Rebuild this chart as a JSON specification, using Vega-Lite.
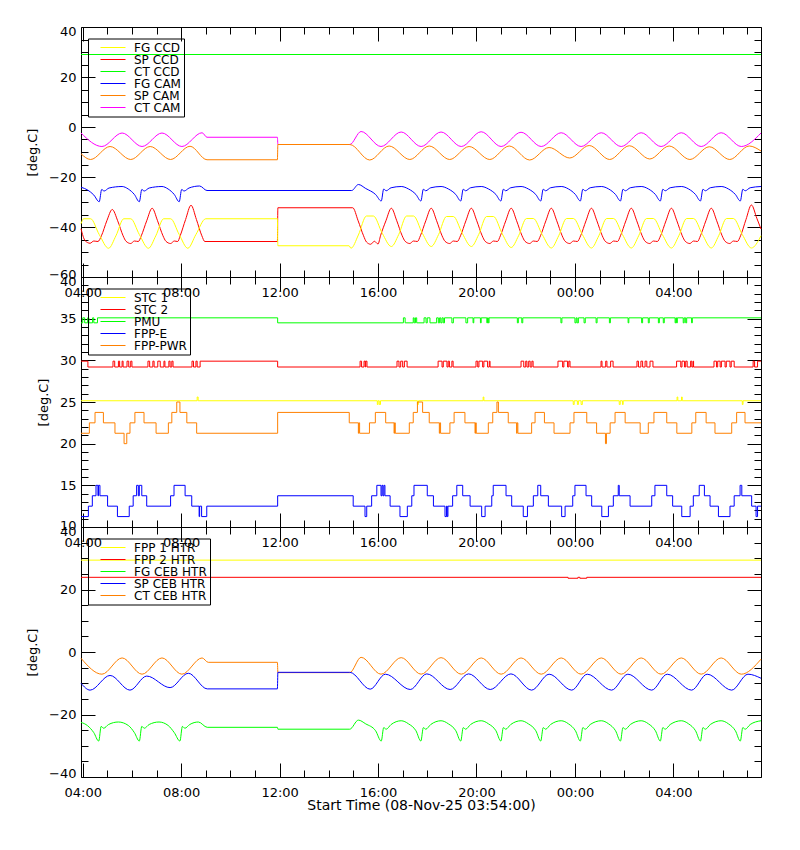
{
  "$schema": "https://vega.github.io/schema/vega-lite/v6.json",
  "padding": {"left": 26, "top": 24, "right": 5, "bottom": 5},
  "background": "white",
  "spacing": 0,
  "bounds": "flush",
  "config": {
    "view": {"stroke": "black", "strokeWidth": 1},
    "axis": {
      "labelFont": "DejaVu Sans", "labelFontSize": 13, "labelColor": "black",
      "titleFont": "DejaVu Sans", "titleFontSize": 13, "titleFontWeight": "normal", "titleColor": "black",
      "tickColor": "black", "tickWidth": 1, "domain": false, "grid": false,
      "labelFlush": false, "labelOverlap": false, "labelBound": false
    },
    "legend": {
      "orient": "none", "legendX": 7, "legendY": 11.5, "title": null,
      "symbolType": "stroke", "symbolSize": 625, "symbolStrokeWidth": 1, "clipHeight": 12,
      "strokeColor": "black", "padding": 3, "symbolOffset": 9, "labelOffset": 8, "rowPadding": 0,
      "labelFont": "DejaVu Sans", "labelFontSize": 12, "labelColor": "black"
    }
  },
  "datasets": {
    "p1": [
      {"t":3.93,"s":"CT CCD","v":29},{"t":31.56,"s":"CT CCD","v":29},

      {"t":3.93,"s":"CT CAM","v":-2.4},{"t":4.78,"s":"CT CAM","v":-7.8},{"t":5.6,"s":"CT CAM","v":-2.4},{"t":6.41,"s":"CT CAM","v":-7.8},{"t":7.22,"s":"CT CAM","v":-2.4},{"t":8.03,"s":"CT CAM","v":-7.8},{"t":8.85,"s":"CT CAM","v":-2.3},{"t":9.05,"s":"CT CAM","v":-4.1},{"t":11.91,"s":"CT CAM","v":-4.1},{"t":11.93,"s":"CT CAM","v":-7},{"t":14.85,"s":"CT CAM","v":-7},{"t":15.31,"s":"CT CAM","v":-1.8},{"t":16.12,"s":"CT CAM","v":-7.8},{"t":16.94,"s":"CT CAM","v":-2},{"t":17.75,"s":"CT CAM","v":-7.8},{"t":18.56,"s":"CT CAM","v":-2},{"t":19.38,"s":"CT CAM","v":-7.8},{"t":20.19,"s":"CT CAM","v":-1.9},{"t":21,"s":"CT CAM","v":-7.8},{"t":21.81,"s":"CT CAM","v":-2.1},{"t":22.63,"s":"CT CAM","v":-7.8},{"t":23.44,"s":"CT CAM","v":-2.3},{"t":24.25,"s":"CT CAM","v":-7.8},{"t":25.07,"s":"CT CAM","v":-2.3},{"t":25.88,"s":"CT CAM","v":-7.8},{"t":26.69,"s":"CT CAM","v":-2.3},{"t":27.5,"s":"CT CAM","v":-7.8},{"t":28.32,"s":"CT CAM","v":-2.3},{"t":29.13,"s":"CT CAM","v":-7.8},{"t":29.94,"s":"CT CAM","v":-2.3},{"t":30.76,"s":"CT CAM","v":-7.8},{"t":31.56,"s":"CT CAM","v":-2.4},

      {"t":3.93,"s":"SP CAM","v":-10.7},{"t":4.32,"s":"SP CAM","v":-13},{"t":5.11,"s":"SP CAM","v":-7.8},{"t":5.95,"s":"SP CAM","v":-13},{"t":6.74,"s":"SP CAM","v":-7.8},{"t":7.57,"s":"SP CAM","v":-13},{"t":8.36,"s":"SP CAM","v":-7.7},{"t":9.05,"s":"SP CAM","v":-13.1},{"t":11.91,"s":"SP CAM","v":-13.1},{"t":11.93,"s":"SP CAM","v":-7},{"t":14.85,"s":"SP CAM","v":-7},{"t":15.66,"s":"SP CAM","v":-13.2},{"t":16.45,"s":"SP CAM","v":-7.6},{"t":17.29,"s":"SP CAM","v":-13},{"t":18.08,"s":"SP CAM","v":-7.6},{"t":18.91,"s":"SP CAM","v":-13},{"t":19.7,"s":"SP CAM","v":-7.8},{"t":20.54,"s":"SP CAM","v":-13},{"t":21.33,"s":"SP CAM","v":-7.6},{"t":22.16,"s":"SP CAM","v":-13.2},{"t":22.95,"s":"SP CAM","v":-8.2},{"t":23.79,"s":"SP CAM","v":-12.4},{"t":24.58,"s":"SP CAM","v":-7.4},{"t":25.41,"s":"SP CAM","v":-13},{"t":26.21,"s":"SP CAM","v":-7.5},{"t":27.04,"s":"SP CAM","v":-12.8},{"t":27.83,"s":"SP CAM","v":-7.6},{"t":28.67,"s":"SP CAM","v":-13},{"t":29.46,"s":"SP CAM","v":-7.9},{"t":30.29,"s":"SP CAM","v":-13},{"t":31.08,"s":"SP CAM","v":-7.6},{"t":31.56,"s":"SP CAM","v":-9.6},

      {"t":3.93,"s":"FG CAM","v":-24.1},{"t":4.2,"s":"FG CAM","v":-25.2},{"t":4.45,"s":"FG CAM","v":-27.2},{"t":4.67,"s":"FG CAM","v":-29.9},{"t":4.77,"s":"FG CAM","v":-25},{"t":4.87,"s":"FG CAM","v":-25.6},{"t":5.07,"s":"FG CAM","v":-24.4},{"t":5.6,"s":"FG CAM","v":-23.8},{"t":5.85,"s":"FG CAM","v":-24.8},{"t":6.1,"s":"FG CAM","v":-27},{"t":6.3,"s":"FG CAM","v":-29.9},{"t":6.4,"s":"FG CAM","v":-25},{"t":6.5,"s":"FG CAM","v":-25.6},{"t":6.7,"s":"FG CAM","v":-24.4},{"t":7.22,"s":"FG CAM","v":-23.8},{"t":7.47,"s":"FG CAM","v":-24.8},{"t":7.72,"s":"FG CAM","v":-27},{"t":7.92,"s":"FG CAM","v":-29.9},{"t":8.02,"s":"FG CAM","v":-25},{"t":8.12,"s":"FG CAM","v":-25.6},{"t":8.32,"s":"FG CAM","v":-24.4},{"t":8.75,"s":"FG CAM","v":-23.6},{"t":9.05,"s":"FG CAM","v":-25.4},{"t":14.93,"s":"FG CAM","v":-25.4},{"t":15.2,"s":"FG CAM","v":-23},{"t":15.5,"s":"FG CAM","v":-24.6},{"t":15.9,"s":"FG CAM","v":-27},{"t":16.13,"s":"FG CAM","v":-29.6},{"t":16.23,"s":"FG CAM","v":-24.8},{"t":16.33,"s":"FG CAM","v":-25.5},{"t":16.53,"s":"FG CAM","v":-24.3},
      {"t":16.94,"s":"FG CAM","v":-23.8},{"t":17.24,"s":"FG CAM","v":-24.8},{"t":17.54,"s":"FG CAM","v":-27},{"t":17.74,"s":"FG CAM","v":-29.6},{"t":17.84,"s":"FG CAM","v":-24.9},{"t":17.94,"s":"FG CAM","v":-25.5},{"t":18.14,"s":"FG CAM","v":-24.3},
      {"t":18.56,"s":"FG CAM","v":-23.8},{"t":18.86,"s":"FG CAM","v":-24.8},{"t":19.16,"s":"FG CAM","v":-27},{"t":19.36,"s":"FG CAM","v":-29.6},{"t":19.46,"s":"FG CAM","v":-24.9},{"t":19.56,"s":"FG CAM","v":-25.5},{"t":19.76,"s":"FG CAM","v":-24.3},
      {"t":20.19,"s":"FG CAM","v":-23.8},{"t":20.49,"s":"FG CAM","v":-24.8},{"t":20.79,"s":"FG CAM","v":-27},{"t":20.99,"s":"FG CAM","v":-29.6},{"t":21.09,"s":"FG CAM","v":-24.9},{"t":21.19,"s":"FG CAM","v":-25.5},{"t":21.39,"s":"FG CAM","v":-24.3},
      {"t":21.81,"s":"FG CAM","v":-23.8},{"t":22.11,"s":"FG CAM","v":-24.8},{"t":22.41,"s":"FG CAM","v":-27},{"t":22.61,"s":"FG CAM","v":-29.6},{"t":22.71,"s":"FG CAM","v":-24.9},{"t":22.81,"s":"FG CAM","v":-25.5},{"t":23.01,"s":"FG CAM","v":-24.3},
      {"t":23.44,"s":"FG CAM","v":-23.8},{"t":23.74,"s":"FG CAM","v":-24.8},{"t":24.02,"s":"FG CAM","v":-27},{"t":24.22,"s":"FG CAM","v":-29.6},{"t":24.32,"s":"FG CAM","v":-24.9},{"t":24.42,"s":"FG CAM","v":-25.5},{"t":24.62,"s":"FG CAM","v":-24.3},
      {"t":25.07,"s":"FG CAM","v":-23.8},{"t":25.37,"s":"FG CAM","v":-24.8},{"t":25.65,"s":"FG CAM","v":-27},{"t":25.85,"s":"FG CAM","v":-29.6},{"t":25.95,"s":"FG CAM","v":-24.9},{"t":26.05,"s":"FG CAM","v":-25.5},{"t":26.25,"s":"FG CAM","v":-24.3},
      {"t":26.69,"s":"FG CAM","v":-23.8},{"t":26.99,"s":"FG CAM","v":-24.8},{"t":27.27,"s":"FG CAM","v":-27},{"t":27.47,"s":"FG CAM","v":-29.6},{"t":27.57,"s":"FG CAM","v":-24.9},{"t":27.67,"s":"FG CAM","v":-25.5},{"t":27.87,"s":"FG CAM","v":-24.3},
      {"t":28.32,"s":"FG CAM","v":-23.8},{"t":28.62,"s":"FG CAM","v":-24.8},{"t":28.9,"s":"FG CAM","v":-27},{"t":29.1,"s":"FG CAM","v":-29.6},{"t":29.2,"s":"FG CAM","v":-24.9},{"t":29.3,"s":"FG CAM","v":-25.5},{"t":29.5,"s":"FG CAM","v":-24.3},
      {"t":29.94,"s":"FG CAM","v":-23.8},{"t":30.24,"s":"FG CAM","v":-24.8},{"t":30.52,"s":"FG CAM","v":-27},{"t":30.72,"s":"FG CAM","v":-29.6},{"t":30.82,"s":"FG CAM","v":-24.9},{"t":30.92,"s":"FG CAM","v":-25.5},{"t":31.12,"s":"FG CAM","v":-24.3},{"t":31.56,"s":"FG CAM","v":-23.8},

      {"t":3.93,"s":"SP CCD","v":-40.7},{"t":4.1,"s":"SP CCD","v":-45.5},{"t":4.3,"s":"SP CCD","v":-46.5},{"t":4.45,"s":"SP CCD","v":-45.6},{"t":4.62,"s":"SP CCD","v":-45.8},{"t":4.76,"s":"SP CCD","v":-43.5},{"t":4.98,"s":"SP CCD","v":-37.5},{"t":5.2,"s":"SP CCD","v":-33},{"t":5.42,"s":"SP CCD","v":-37.5},{"t":5.64,"s":"SP CCD","v":-43.5},{"t":5.76,"s":"SP CCD","v":-45.7},{"t":5.95,"s":"SP CCD","v":-46.6},{"t":6.1,"s":"SP CCD","v":-45.6},{"t":6.26,"s":"SP CCD","v":-45.8},{"t":6.38,"s":"SP CCD","v":-43.5},{"t":6.6,"s":"SP CCD","v":-37.5},{"t":6.82,"s":"SP CCD","v":-32.5},{"t":7.04,"s":"SP CCD","v":-37.5},{"t":7.26,"s":"SP CCD","v":-43.5},{"t":7.38,"s":"SP CCD","v":-45.7},{"t":7.57,"s":"SP CCD","v":-46.6},{"t":7.72,"s":"SP CCD","v":-45.6},{"t":7.86,"s":"SP CCD","v":-45.8},{"t":7.96,"s":"SP CCD","v":-43.5},{"t":8.18,"s":"SP CCD","v":-37},{"t":8.4,"s":"SP CCD","v":-31.3},{"t":8.62,"s":"SP CCD","v":-37},{"t":8.84,"s":"SP CCD","v":-43.5},{"t":8.96,"s":"SP CCD","v":-45.8},{"t":11.91,"s":"SP CCD","v":-45.8},{"t":11.93,"s":"SP CCD","v":-32.3},{"t":14.97,"s":"SP CCD","v":-32.3},{"t":15.19,"s":"SP CCD","v":-37.5},{"t":15.41,"s":"SP CCD","v":-43.5},{"t":15.53,"s":"SP CCD","v":-46},{"t":15.7,"s":"SP CCD","v":-46.9},{"t":15.85,"s":"SP CCD","v":-45.7},{"t":16,"s":"SP CCD","v":-46.8},{"t":16.1,"s":"SP CCD","v":-43.5},
      {"t":16.32,"s":"SP CCD","v":-37.5},{"t":16.54,"s":"SP CCD","v":-32.5},{"t":16.76,"s":"SP CCD","v":-37.5},{"t":16.98,"s":"SP CCD","v":-43.5},{"t":17.1,"s":"SP CCD","v":-45.7},{"t":17.29,"s":"SP CCD","v":-46.6},{"t":17.44,"s":"SP CCD","v":-45.6},{"t":17.6,"s":"SP CCD","v":-45.8},
      {"t":17.72,"s":"SP CCD","v":-43.5},{"t":17.94,"s":"SP CCD","v":-37.5},{"t":18.16,"s":"SP CCD","v":-32.5},{"t":18.38,"s":"SP CCD","v":-37.5},{"t":18.6,"s":"SP CCD","v":-43.5},{"t":18.72,"s":"SP CCD","v":-45.7},{"t":18.91,"s":"SP CCD","v":-46.6},{"t":19.06,"s":"SP CCD","v":-45.6},{"t":19.22,"s":"SP CCD","v":-45.8},
      {"t":19.35,"s":"SP CCD","v":-43.5},{"t":19.57,"s":"SP CCD","v":-37.5},{"t":19.79,"s":"SP CCD","v":-32.5},{"t":20.01,"s":"SP CCD","v":-37.5},{"t":20.23,"s":"SP CCD","v":-43.5},{"t":20.35,"s":"SP CCD","v":-45.7},{"t":20.54,"s":"SP CCD","v":-46.6},{"t":20.69,"s":"SP CCD","v":-45.6},{"t":20.85,"s":"SP CCD","v":-45.8},
      {"t":20.97,"s":"SP CCD","v":-43.5},{"t":21.19,"s":"SP CCD","v":-37.5},{"t":21.41,"s":"SP CCD","v":-32.5},{"t":21.63,"s":"SP CCD","v":-37.5},{"t":21.85,"s":"SP CCD","v":-43.5},{"t":21.97,"s":"SP CCD","v":-45.7},{"t":22.16,"s":"SP CCD","v":-46.6},{"t":22.31,"s":"SP CCD","v":-45.6},{"t":22.47,"s":"SP CCD","v":-45.8},
      {"t":22.6,"s":"SP CCD","v":-43.5},{"t":22.82,"s":"SP CCD","v":-37.5},{"t":23.04,"s":"SP CCD","v":-32.5},{"t":23.26,"s":"SP CCD","v":-37.5},{"t":23.48,"s":"SP CCD","v":-43.5},{"t":23.6,"s":"SP CCD","v":-45.7},{"t":23.79,"s":"SP CCD","v":-46.6},{"t":23.94,"s":"SP CCD","v":-45.6},{"t":24.1,"s":"SP CCD","v":-45.8},
      {"t":24.23,"s":"SP CCD","v":-43.5},{"t":24.45,"s":"SP CCD","v":-37.5},{"t":24.67,"s":"SP CCD","v":-32.5},{"t":24.89,"s":"SP CCD","v":-37.5},{"t":25.11,"s":"SP CCD","v":-43.5},{"t":25.23,"s":"SP CCD","v":-45.7},{"t":25.42,"s":"SP CCD","v":-46.6},{"t":25.57,"s":"SP CCD","v":-45.6},{"t":25.73,"s":"SP CCD","v":-45.8},
      {"t":25.85,"s":"SP CCD","v":-43.5},{"t":26.07,"s":"SP CCD","v":-37.5},{"t":26.29,"s":"SP CCD","v":-32.5},{"t":26.51,"s":"SP CCD","v":-37.5},{"t":26.73,"s":"SP CCD","v":-43.5},{"t":26.85,"s":"SP CCD","v":-45.7},{"t":27.04,"s":"SP CCD","v":-46.6},{"t":27.19,"s":"SP CCD","v":-45.6},{"t":27.35,"s":"SP CCD","v":-45.8},
      {"t":27.48,"s":"SP CCD","v":-43.5},{"t":27.7,"s":"SP CCD","v":-37.5},{"t":27.92,"s":"SP CCD","v":-32.5},{"t":28.14,"s":"SP CCD","v":-37.5},{"t":28.36,"s":"SP CCD","v":-43.5},{"t":28.48,"s":"SP CCD","v":-45.7},{"t":28.67,"s":"SP CCD","v":-46.6},{"t":28.82,"s":"SP CCD","v":-45.6},{"t":28.98,"s":"SP CCD","v":-45.8},
      {"t":29.1,"s":"SP CCD","v":-43.5},{"t":29.32,"s":"SP CCD","v":-37.5},{"t":29.54,"s":"SP CCD","v":-32.5},{"t":29.76,"s":"SP CCD","v":-37.5},{"t":29.98,"s":"SP CCD","v":-43.5},{"t":30.1,"s":"SP CCD","v":-45.7},{"t":30.29,"s":"SP CCD","v":-46.6},{"t":30.44,"s":"SP CCD","v":-45.6},{"t":30.6,"s":"SP CCD","v":-45.8},
      {"t":30.73,"s":"SP CCD","v":-43.5},{"t":30.95,"s":"SP CCD","v":-37},{"t":31.17,"s":"SP CCD","v":-31.2},{"t":31.39,"s":"SP CCD","v":-36.5},{"t":31.56,"s":"SP CCD","v":-40.8},

      {"t":3.93,"s":"FG CCD","v":-38.7},{"t":4.04,"s":"FG CCD","v":-36.7},{"t":4.32,"s":"FG CCD","v":-36.7},{"t":4.67,"s":"FG CCD","v":-43},{"t":5.05,"s":"FG CCD","v":-48.5},{"t":5.35,"s":"FG CCD","v":-43.5},{"t":5.67,"s":"FG CCD","v":-36.7},{"t":5.95,"s":"FG CCD","v":-36.7},{"t":6.3,"s":"FG CCD","v":-43},{"t":6.67,"s":"FG CCD","v":-48.5},{"t":6.97,"s":"FG CCD","v":-43.5},{"t":7.29,"s":"FG CCD","v":-36.7},{"t":7.57,"s":"FG CCD","v":-36.7},{"t":7.92,"s":"FG CCD","v":-43},{"t":8.27,"s":"FG CCD","v":-48.5},{"t":8.6,"s":"FG CCD","v":-43},{"t":9,"s":"FG CCD","v":-36.7},{"t":11.91,"s":"FG CCD","v":-36.7},{"t":11.93,"s":"FG CCD","v":-47.5},{"t":14.82,"s":"FG CCD","v":-47.5},{"t":14.9,"s":"FG CCD","v":-48.5},{"t":15.2,"s":"FG CCD","v":-43.2},{"t":15.53,"s":"FG CCD","v":-35.6},{"t":15.81,"s":"FG CCD","v":-35.6},{"t":16.17,"s":"FG CCD","v":-42.5},{"t":16.54,"s":"FG CCD","v":-47.8},{"t":16.84,"s":"FG CCD","v":-43},{"t":17.16,"s":"FG CCD","v":-35.6},{"t":17.44,"s":"FG CCD","v":-35.6},{"t":17.8,"s":"FG CCD","v":-42.5},{"t":18.16,"s":"FG CCD","v":-47.8},{"t":18.46,"s":"FG CCD","v":-43},{"t":18.78,"s":"FG CCD","v":-35.8},{"t":19.06,"s":"FG CCD","v":-35.8},{"t":19.42,"s":"FG CCD","v":-42.5},{"t":19.79,"s":"FG CCD","v":-47.8},{"t":20.09,"s":"FG CCD","v":-43},{"t":20.41,"s":"FG CCD","v":-35.8},{"t":20.69,"s":"FG CCD","v":-35.8},{"t":21.05,"s":"FG CCD","v":-42.8},{"t":21.41,"s":"FG CCD","v":-48.2},{"t":21.71,"s":"FG CCD","v":-43.5},{"t":22.03,"s":"FG CCD","v":-36.6},{"t":22.31,"s":"FG CCD","v":-36.6},{"t":22.67,"s":"FG CCD","v":-43},{"t":23.04,"s":"FG CCD","v":-48.4},{"t":23.34,"s":"FG CCD","v":-43.5},{"t":23.66,"s":"FG CCD","v":-36.6},{"t":23.94,"s":"FG CCD","v":-36.6},{"t":24.3,"s":"FG CCD","v":-43},{"t":24.67,"s":"FG CCD","v":-48.4},{"t":24.97,"s":"FG CCD","v":-43.5},{"t":25.29,"s":"FG CCD","v":-36.6},{"t":25.57,"s":"FG CCD","v":-36.6},{"t":25.93,"s":"FG CCD","v":-43},{"t":26.29,"s":"FG CCD","v":-48.4},{"t":26.59,"s":"FG CCD","v":-43.5},{"t":26.91,"s":"FG CCD","v":-36.6},{"t":27.19,"s":"FG CCD","v":-36.6},{"t":27.55,"s":"FG CCD","v":-43},{"t":27.92,"s":"FG CCD","v":-48.4},{"t":28.22,"s":"FG CCD","v":-43.5},{"t":28.54,"s":"FG CCD","v":-36.6},{"t":28.82,"s":"FG CCD","v":-36.6},{"t":29.18,"s":"FG CCD","v":-43},{"t":29.54,"s":"FG CCD","v":-48.4},{"t":29.84,"s":"FG CCD","v":-43.5},{"t":30.16,"s":"FG CCD","v":-36.6},{"t":30.44,"s":"FG CCD","v":-36.6},{"t":30.8,"s":"FG CCD","v":-43},{"t":31.17,"s":"FG CCD","v":-48.4},{"t":31.56,"s":"FG CCD","v":-43.5}
    ],
    "p2": [
      {"t":3.93,"s":"STC 1","v":25.15},{"t":8.65,"s":"STC 1","v":25.6},{"t":8.69,"s":"STC 1","v":25.15},{"t":15.97,"s":"STC 1","v":24.7},{"t":16,"s":"STC 1","v":25.15},{"t":16.05,"s":"STC 1","v":24.7},{"t":16.1,"s":"STC 1","v":25.15},{"t":17.6,"s":"STC 1","v":24.7},{"t":17.64,"s":"STC 1","v":25.15},{"t":20.27,"s":"STC 1","v":25.6},{"t":20.3,"s":"STC 1","v":25.15},{"t":23.93,"s":"STC 1","v":24.7},{"t":23.97,"s":"STC 1","v":25.15},{"t":24.1,"s":"STC 1","v":24.7},{"t":24.14,"s":"STC 1","v":25.15},{"t":24.25,"s":"STC 1","v":24.7},{"t":24.3,"s":"STC 1","v":25.15},{"t":25.8,"s":"STC 1","v":24.7},{"t":25.84,"s":"STC 1","v":25.15},{"t":25.93,"s":"STC 1","v":24.7},{"t":25.96,"s":"STC 1","v":25.15},{"t":28.15,"s":"STC 1","v":25.6},{"t":28.18,"s":"STC 1","v":25.15},{"t":28.33,"s":"STC 1","v":25.6},{"t":28.36,"s":"STC 1","v":25.15},{"t":30.8,"s":"STC 1","v":24.7},{"t":30.83,"s":"STC 1","v":25.15},{"t":31.56,"s":"STC 1","v":25.15},

      {"t":3.93,"s":"STC 2","v":29.9},{"t":4.21,"s":"STC 2","v":29.2},
      {"t":5.23,"s":"STC 2","v":29.9},{"t":5.3,"s":"STC 2","v":29.2},{"t":5.45,"s":"STC 2","v":29.9},{"t":5.5,"s":"STC 2","v":29.2},{"t":5.6,"s":"STC 2","v":29.9},{"t":5.64,"s":"STC 2","v":29.2},{"t":5.8,"s":"STC 2","v":29.9},{"t":5.87,"s":"STC 2","v":29.2},{"t":5.95,"s":"STC 2","v":29.9},{"t":6,"s":"STC 2","v":29.2},
      {"t":6.65,"s":"STC 2","v":29.9},{"t":6.72,"s":"STC 2","v":29.2},{"t":6.85,"s":"STC 2","v":29.9},{"t":6.9,"s":"STC 2","v":29.2},{"t":7.05,"s":"STC 2","v":29.9},{"t":7.15,"s":"STC 2","v":29.2},{"t":7.3,"s":"STC 2","v":29.9},{"t":7.34,"s":"STC 2","v":29.2},{"t":7.5,"s":"STC 2","v":29.9},{"t":7.55,"s":"STC 2","v":29.2},{"t":7.62,"s":"STC 2","v":29.9},{"t":7.67,"s":"STC 2","v":29.2},
      {"t":8.44,"s":"STC 2","v":29.9},{"t":8.5,"s":"STC 2","v":29.2},{"t":8.6,"s":"STC 2","v":29.9},{"t":8.65,"s":"STC 2","v":29.2},{"t":8.77,"s":"STC 2","v":29.9},{"t":11.92,"s":"STC 2","v":29.2},
      {"t":15.27,"s":"STC 2","v":29.9},{"t":15.33,"s":"STC 2","v":29.2},{"t":15.43,"s":"STC 2","v":29.9},{"t":15.48,"s":"STC 2","v":29.2},{"t":15.5,"s":"STC 2","v":29.9},{"t":15.55,"s":"STC 2","v":29.2},
      {"t":16.77,"s":"STC 2","v":29.9},{"t":16.85,"s":"STC 2","v":29.2},{"t":16.92,"s":"STC 2","v":29.9},{"t":17,"s":"STC 2","v":29.2},{"t":17.07,"s":"STC 2","v":29.9},{"t":17.18,"s":"STC 2","v":29.2},
      {"t":18.44,"s":"STC 2","v":29.9},{"t":18.6,"s":"STC 2","v":29.2},{"t":18.65,"s":"STC 2","v":29.9},{"t":18.8,"s":"STC 2","v":29.2},{"t":18.85,"s":"STC 2","v":29.9},{"t":18.9,"s":"STC 2","v":29.2},{"t":19,"s":"STC 2","v":29.9},{"t":19.05,"s":"STC 2","v":29.2},
      {"t":19.98,"s":"STC 2","v":29.9},{"t":20.05,"s":"STC 2","v":29.2},{"t":20.1,"s":"STC 2","v":29.9},{"t":20.25,"s":"STC 2","v":29.2},{"t":20.3,"s":"STC 2","v":29.9},{"t":20.45,"s":"STC 2","v":29.2},{"t":20.52,"s":"STC 2","v":29.9},{"t":20.55,"s":"STC 2","v":29.2},
      {"t":21.81,"s":"STC 2","v":29.9},{"t":21.92,"s":"STC 2","v":29.2},{"t":22,"s":"STC 2","v":29.9},{"t":22.05,"s":"STC 2","v":29.2},{"t":22.12,"s":"STC 2","v":29.9},{"t":22.18,"s":"STC 2","v":29.2},{"t":22.25,"s":"STC 2","v":29.9},{"t":22.3,"s":"STC 2","v":29.2},
      {"t":23.31,"s":"STC 2","v":29.9},{"t":23.5,"s":"STC 2","v":29.2},{"t":23.55,"s":"STC 2","v":29.9},{"t":23.7,"s":"STC 2","v":29.2},{"t":23.75,"s":"STC 2","v":29.9},{"t":23.8,"s":"STC 2","v":29.2},
      {"t":25.06,"s":"STC 2","v":29.9},{"t":25.1,"s":"STC 2","v":29.2},{"t":25.25,"s":"STC 2","v":29.9},{"t":25.3,"s":"STC 2","v":29.2},{"t":25.45,"s":"STC 2","v":29.9},{"t":25.55,"s":"STC 2","v":29.2},
      {"t":26.52,"s":"STC 2","v":29.9},{"t":26.58,"s":"STC 2","v":29.2},{"t":26.68,"s":"STC 2","v":29.9},{"t":26.75,"s":"STC 2","v":29.2},{"t":26.85,"s":"STC 2","v":29.9},{"t":26.92,"s":"STC 2","v":29.2},{"t":27.05,"s":"STC 2","v":29.9},{"t":27.17,"s":"STC 2","v":29.2},
      {"t":28.13,"s":"STC 2","v":29.9},{"t":28.3,"s":"STC 2","v":29.2},{"t":28.35,"s":"STC 2","v":29.9},{"t":28.45,"s":"STC 2","v":29.2},{"t":28.5,"s":"STC 2","v":29.9},{"t":28.56,"s":"STC 2","v":29.2},{"t":28.7,"s":"STC 2","v":29.9},{"t":28.75,"s":"STC 2","v":29.2},{"t":28.8,"s":"STC 2","v":29.9},{"t":28.82,"s":"STC 2","v":29.2},
      {"t":29.65,"s":"STC 2","v":29.9},{"t":29.75,"s":"STC 2","v":29.2},{"t":29.8,"s":"STC 2","v":29.9},{"t":29.9,"s":"STC 2","v":29.2},{"t":29.95,"s":"STC 2","v":29.9},{"t":30.1,"s":"STC 2","v":29.2},{"t":30.15,"s":"STC 2","v":29.9},{"t":30.3,"s":"STC 2","v":29.2},{"t":30.35,"s":"STC 2","v":29.9},{"t":30.47,"s":"STC 2","v":29.2},
      {"t":31.24,"s":"STC 2","v":29.9},{"t":31.3,"s":"STC 2","v":29.2},{"t":31.42,"s":"STC 2","v":29.9},{"t":31.56,"s":"STC 2","v":29.9},

      {"t":3.93,"s":"PMU","v":34.5},{"t":4,"s":"PMU","v":35.1},{"t":4.08,"s":"PMU","v":34.5},{"t":4.2,"s":"PMU","v":35.1},{"t":4.25,"s":"PMU","v":34.5},{"t":4.4,"s":"PMU","v":35.1},{"t":4.45,"s":"PMU","v":34.5},{"t":4.6,"s":"PMU","v":35.1},{"t":11.92,"s":"PMU","v":34.5},
      {"t":17.03,"s":"PMU","v":35.1},{"t":17.1,"s":"PMU","v":34.5},{"t":17.43,"s":"PMU","v":35.1},{"t":17.47,"s":"PMU","v":34.5},{"t":17.52,"s":"PMU","v":35.1},{"t":17.57,"s":"PMU","v":34.5},{"t":17.87,"s":"PMU","v":35.1},{"t":17.95,"s":"PMU","v":34.5},{"t":18,"s":"PMU","v":35.1},{"t":18.11,"s":"PMU","v":34.5},{"t":18.38,"s":"PMU","v":35.1},{"t":18.45,"s":"PMU","v":34.5},{"t":18.5,"s":"PMU","v":35.1},{"t":18.55,"s":"PMU","v":34.5},{"t":18.6,"s":"PMU","v":35.1},{"t":18.65,"s":"PMU","v":34.5},{"t":18.7,"s":"PMU","v":35.1},
      {"t":19,"s":"PMU","v":34.5},{"t":19.06,"s":"PMU","v":35.1},{"t":19.57,"s":"PMU","v":34.5},{"t":19.64,"s":"PMU","v":35.1},{"t":19.86,"s":"PMU","v":34.5},{"t":19.89,"s":"PMU","v":35.1},{"t":20.16,"s":"PMU","v":34.5},{"t":20.19,"s":"PMU","v":35.1},{"t":20.42,"s":"PMU","v":34.5},{"t":20.45,"s":"PMU","v":35.1},{"t":20.48,"s":"PMU","v":34.5},{"t":20.51,"s":"PMU","v":35.1},{"t":21.66,"s":"PMU","v":34.5},{"t":21.7,"s":"PMU","v":35.1},{"t":21.84,"s":"PMU","v":34.5},{"t":21.88,"s":"PMU","v":35.1},{"t":23.43,"s":"PMU","v":34.5},{"t":23.47,"s":"PMU","v":35.1},{"t":24,"s":"PMU","v":34.5},{"t":24.05,"s":"PMU","v":35.1},{"t":24.09,"s":"PMU","v":34.5},{"t":24.14,"s":"PMU","v":35.1},{"t":24.37,"s":"PMU","v":34.5},{"t":24.42,"s":"PMU","v":35.1},{"t":24.86,"s":"PMU","v":34.5},{"t":24.9,"s":"PMU","v":35.1},{"t":25.4,"s":"PMU","v":34.5},{"t":25.44,"s":"PMU","v":35.1},{"t":26.16,"s":"PMU","v":34.5},{"t":26.19,"s":"PMU","v":35.1},{"t":26.71,"s":"PMU","v":34.5},{"t":26.75,"s":"PMU","v":35.1},{"t":26.98,"s":"PMU","v":34.5},{"t":27.02,"s":"PMU","v":35.1},{"t":27.39,"s":"PMU","v":34.5},{"t":27.43,"s":"PMU","v":35.1},{"t":27.59,"s":"PMU","v":34.5},{"t":27.63,"s":"PMU","v":35.1},{"t":28.07,"s":"PMU","v":34.5},{"t":28.1,"s":"PMU","v":35.1},{"t":28.13,"s":"PMU","v":34.5},{"t":28.16,"s":"PMU","v":35.1},{"t":28.4,"s":"PMU","v":34.5},{"t":28.44,"s":"PMU","v":35.1},{"t":28.5,"s":"PMU","v":34.5},{"t":28.54,"s":"PMU","v":35.1},{"t":28.74,"s":"PMU","v":34.5},{"t":28.77,"s":"PMU","v":35.1},{"t":31.56,"s":"PMU","v":35.1},

      {"t":3.93,"s":"FPP-PWR","v":21.25},{"t":4.27,"s":"FPP-PWR","v":22.5},{"t":4.5,"s":"FPP-PWR","v":23.75},{"t":4.84,"s":"FPP-PWR","v":22.5},{"t":5.31,"s":"FPP-PWR","v":21.25},{"t":5.68,"s":"FPP-PWR","v":20},{"t":5.79,"s":"FPP-PWR","v":21.25},{"t":5.92,"s":"FPP-PWR","v":22.5},{"t":6.12,"s":"FPP-PWR","v":23.75},{"t":6.49,"s":"FPP-PWR","v":22.5},{"t":6.98,"s":"FPP-PWR","v":21.25},{"t":7.48,"s":"FPP-PWR","v":22.5},{"t":7.62,"s":"FPP-PWR","v":23.75},{"t":7.82,"s":"FPP-PWR","v":25},{"t":7.95,"s":"FPP-PWR","v":23.75},{"t":8.23,"s":"FPP-PWR","v":22.5},{"t":8.63,"s":"FPP-PWR","v":21.25},{"t":11.92,"s":"FPP-PWR","v":23.75},{"t":14.83,"s":"FPP-PWR","v":22.5},{"t":15.2,"s":"FPP-PWR","v":21.25},{"t":15.22,"s":"FPP-PWR","v":22.5},{"t":15.25,"s":"FPP-PWR","v":21.25},{"t":15.65,"s":"FPP-PWR","v":22.5},{"t":15.89,"s":"FPP-PWR","v":23.75},{"t":16.31,"s":"FPP-PWR","v":22.5},{"t":16.65,"s":"FPP-PWR","v":21.25},{"t":16.67,"s":"FPP-PWR","v":22.5},{"t":16.7,"s":"FPP-PWR","v":21.25},{"t":17.27,"s":"FPP-PWR","v":22.5},{"t":17.43,"s":"FPP-PWR","v":23.75},{"t":17.6,"s":"FPP-PWR","v":25},{"t":17.81,"s":"FPP-PWR","v":23.75},{"t":18.08,"s":"FPP-PWR","v":22.5},{"t":18.49,"s":"FPP-PWR","v":21.25},{"t":18.51,"s":"FPP-PWR","v":22.5},{"t":18.54,"s":"FPP-PWR","v":21.25},{"t":18.92,"s":"FPP-PWR","v":22.5},{"t":19.09,"s":"FPP-PWR","v":23.75},{"t":19.53,"s":"FPP-PWR","v":22.5},{"t":19.94,"s":"FPP-PWR","v":21.25},{"t":19.96,"s":"FPP-PWR","v":22.5},{"t":19.99,"s":"FPP-PWR","v":21.25},{"t":20.48,"s":"FPP-PWR","v":22.5},{"t":20.66,"s":"FPP-PWR","v":23.75},{"t":20.83,"s":"FPP-PWR","v":25},{"t":20.89,"s":"FPP-PWR","v":23.75},{"t":21.29,"s":"FPP-PWR","v":22.5},{"t":21.63,"s":"FPP-PWR","v":21.25},{"t":21.65,"s":"FPP-PWR","v":22.5},{"t":21.68,"s":"FPP-PWR","v":21.25},{"t":22.24,"s":"FPP-PWR","v":22.5},{"t":22.38,"s":"FPP-PWR","v":23.75},{"t":22.76,"s":"FPP-PWR","v":22.5},{"t":23.15,"s":"FPP-PWR","v":21.25},{"t":23.8,"s":"FPP-PWR","v":22.5},{"t":23.96,"s":"FPP-PWR","v":23.75},{"t":24.48,"s":"FPP-PWR","v":22.5},{"t":24.88,"s":"FPP-PWR","v":21.25},{"t":25.24,"s":"FPP-PWR","v":20},{"t":25.28,"s":"FPP-PWR","v":21.25},{"t":25.43,"s":"FPP-PWR","v":22.5},{"t":25.63,"s":"FPP-PWR","v":23.75},{"t":26.04,"s":"FPP-PWR","v":22.5},{"t":26.65,"s":"FPP-PWR","v":21.25},{"t":26.98,"s":"FPP-PWR","v":22.5},{"t":27.21,"s":"FPP-PWR","v":23.75},{"t":27.73,"s":"FPP-PWR","v":22.5},{"t":28.14,"s":"FPP-PWR","v":21.25},{"t":28.75,"s":"FPP-PWR","v":22.5},{"t":28.91,"s":"FPP-PWR","v":23.75},{"t":29.33,"s":"FPP-PWR","v":22.5},{"t":29.69,"s":"FPP-PWR","v":21.25},{"t":30.37,"s":"FPP-PWR","v":22.5},{"t":30.57,"s":"FPP-PWR","v":23.75},{"t":30.91,"s":"FPP-PWR","v":22.5},{"t":31.56,"s":"FPP-PWR","v":22.5},

      {"t":3.93,"s":"FPP-E","v":11.25},{"t":4.23,"s":"FPP-E","v":12.5},{"t":4.39,"s":"FPP-E","v":13.75},{"t":4.54,"s":"FPP-E","v":15},{"t":4.62,"s":"FPP-E","v":13.75},{"t":4.64,"s":"FPP-E","v":15},{"t":4.7,"s":"FPP-E","v":13.75},{"t":5.01,"s":"FPP-E","v":12.5},{"t":5.41,"s":"FPP-E","v":11.25},{"t":5.89,"s":"FPP-E","v":12.5},{"t":6.05,"s":"FPP-E","v":13.75},{"t":6.19,"s":"FPP-E","v":15},{"t":6.26,"s":"FPP-E","v":13.75},{"t":6.3,"s":"FPP-E","v":15},{"t":6.4,"s":"FPP-E","v":13.75},{"t":6.6,"s":"FPP-E","v":12.5},{"t":7.57,"s":"FPP-E","v":13.75},{"t":7.71,"s":"FPP-E","v":15},{"t":8.16,"s":"FPP-E","v":13.75},{"t":8.43,"s":"FPP-E","v":12.5},{"t":8.73,"s":"FPP-E","v":11.25},{"t":8.75,"s":"FPP-E","v":12.5},{"t":8.83,"s":"FPP-E","v":11.25},{"t":9.04,"s":"FPP-E","v":12.5},{"t":11.92,"s":"FPP-E","v":13.75},{"t":14.99,"s":"FPP-E","v":12.5},{"t":15.47,"s":"FPP-E","v":11.25},{"t":15.54,"s":"FPP-E","v":12.5},{"t":15.74,"s":"FPP-E","v":13.75},{"t":15.95,"s":"FPP-E","v":15},{"t":16.12,"s":"FPP-E","v":13.75},{"t":16.16,"s":"FPP-E","v":15},{"t":16.2,"s":"FPP-E","v":13.75},{"t":16.24,"s":"FPP-E","v":15},{"t":16.28,"s":"FPP-E","v":13.75},{"t":16.49,"s":"FPP-E","v":12.5},{"t":16.89,"s":"FPP-E","v":11.25},{"t":17.19,"s":"FPP-E","v":12.5},{"t":17.37,"s":"FPP-E","v":13.75},{"t":17.46,"s":"FPP-E","v":15},{"t":18,"s":"FPP-E","v":13.75},{"t":18.25,"s":"FPP-E","v":12.5},{"t":18.72,"s":"FPP-E","v":11.25},{"t":18.78,"s":"FPP-E","v":12.5},{"t":18.81,"s":"FPP-E","v":11.25},{"t":18.84,"s":"FPP-E","v":12.5},{"t":19.03,"s":"FPP-E","v":13.75},{"t":19.2,"s":"FPP-E","v":15},{"t":19.44,"s":"FPP-E","v":13.75},{"t":19.74,"s":"FPP-E","v":12.5},{"t":20.21,"s":"FPP-E","v":11.25},{"t":20.35,"s":"FPP-E","v":12.5},{"t":20.62,"s":"FPP-E","v":13.75},{"t":20.68,"s":"FPP-E","v":15},{"t":21.2,"s":"FPP-E","v":13.75},{"t":21.43,"s":"FPP-E","v":12.5},{"t":21.9,"s":"FPP-E","v":11.25},{"t":22.07,"s":"FPP-E","v":12.5},{"t":22.31,"s":"FPP-E","v":13.75},{"t":22.49,"s":"FPP-E","v":15},{"t":22.61,"s":"FPP-E","v":13.75},{"t":22.92,"s":"FPP-E","v":12.5},{"t":23.46,"s":"FPP-E","v":11.25},{"t":23.6,"s":"FPP-E","v":12.5},{"t":23.91,"s":"FPP-E","v":13.75},{"t":24,"s":"FPP-E","v":15},{"t":24.45,"s":"FPP-E","v":13.75},{"t":24.68,"s":"FPP-E","v":12.5},{"t":25.09,"s":"FPP-E","v":11.25},{"t":25.36,"s":"FPP-E","v":12.5},{"t":25.56,"s":"FPP-E","v":13.75},{"t":25.76,"s":"FPP-E","v":15},{"t":25.8,"s":"FPP-E","v":13.75},{"t":26.24,"s":"FPP-E","v":12.5},{"t":27.12,"s":"FPP-E","v":13.75},{"t":27.25,"s":"FPP-E","v":15},{"t":27.73,"s":"FPP-E","v":13.75},{"t":27.97,"s":"FPP-E","v":12.5},{"t":28.34,"s":"FPP-E","v":11.25},{"t":28.68,"s":"FPP-E","v":12.5},{"t":28.81,"s":"FPP-E","v":13.75},{"t":29.05,"s":"FPP-E","v":15},{"t":29.26,"s":"FPP-E","v":13.75},{"t":29.49,"s":"FPP-E","v":12.5},{"t":29.83,"s":"FPP-E","v":11.25},{"t":30.3,"s":"FPP-E","v":12.5},{"t":30.47,"s":"FPP-E","v":13.75},{"t":30.71,"s":"FPP-E","v":15},{"t":30.78,"s":"FPP-E","v":13.75},{"t":31.18,"s":"FPP-E","v":12.5},{"t":31.36,"s":"FPP-E","v":11.25},{"t":31.42,"s":"FPP-E","v":12.5},{"t":31.56,"s":"FPP-E","v":12.5}
    ],
    "p3": [
      {"t":3.93,"s":"FPP 1 HTR","v":29.4},{"t":31.56,"s":"FPP 1 HTR","v":29.4},
      {"t":3.93,"s":"FPP 2 HTR","v":23.9},{"t":23.72,"s":"FPP 2 HTR","v":23.6},{"t":24.12,"s":"FPP 2 HTR","v":23.9},{"t":24.2,"s":"FPP 2 HTR","v":23.6},{"t":24.48,"s":"FPP 2 HTR","v":23.9},{"t":31.56,"s":"FPP 2 HTR","v":23.9},

      {"t":3.93,"s":"CT CEB HTR","v":-2},{"t":4.78,"s":"CT CEB HTR","v":-7.1},{"t":5.6,"s":"CT CEB HTR","v":-1.9},{"t":6.41,"s":"CT CEB HTR","v":-7.1},{"t":7.22,"s":"CT CEB HTR","v":-1.9},{"t":8.03,"s":"CT CEB HTR","v":-7.1},{"t":8.85,"s":"CT CEB HTR","v":-1.9},{"t":9.1,"s":"CT CEB HTR","v":-3.3},{"t":11.91,"s":"CT CEB HTR","v":-3.3},{"t":11.93,"s":"CT CEB HTR","v":-6.6},{"t":14.85,"s":"CT CEB HTR","v":-6.6},{"t":15.31,"s":"CT CEB HTR","v":-1.7},{"t":16.12,"s":"CT CEB HTR","v":-7.1},{"t":16.94,"s":"CT CEB HTR","v":-1.8},{"t":17.75,"s":"CT CEB HTR","v":-7.1},{"t":18.56,"s":"CT CEB HTR","v":-1.8},{"t":19.38,"s":"CT CEB HTR","v":-7.1},{"t":20.19,"s":"CT CEB HTR","v":-1.9},{"t":21,"s":"CT CEB HTR","v":-7.1},{"t":21.81,"s":"CT CEB HTR","v":-1.9},{"t":22.63,"s":"CT CEB HTR","v":-7.1},{"t":23.44,"s":"CT CEB HTR","v":-1.9},{"t":24.25,"s":"CT CEB HTR","v":-7.1},{"t":25.07,"s":"CT CEB HTR","v":-1.9},{"t":25.88,"s":"CT CEB HTR","v":-7.1},{"t":26.69,"s":"CT CEB HTR","v":-1.9},{"t":27.5,"s":"CT CEB HTR","v":-7.1},{"t":28.32,"s":"CT CEB HTR","v":-1.9},{"t":29.13,"s":"CT CEB HTR","v":-7.1},{"t":29.94,"s":"CT CEB HTR","v":-1.9},{"t":30.76,"s":"CT CEB HTR","v":-7.1},{"t":31.56,"s":"CT CEB HTR","v":-2.3},

      {"t":3.93,"s":"SP CEB HTR","v":-10},{"t":4.3,"s":"SP CEB HTR","v":-12.2},{"t":5.11,"s":"SP CEB HTR","v":-7.5},{"t":5.92,"s":"SP CEB HTR","v":-12.2},{"t":6.6,"s":"SP CEB HTR","v":-7.7},{"t":7.55,"s":"SP CEB HTR","v":-11.4},{"t":8.29,"s":"SP CEB HTR","v":-6.8},{"t":9.06,"s":"SP CEB HTR","v":-11.8},{"t":11.91,"s":"SP CEB HTR","v":-11.8},{"t":11.93,"s":"SP CEB HTR","v":-6.5},{"t":14.85,"s":"SP CEB HTR","v":-6.5},{"t":15.68,"s":"SP CEB HTR","v":-11.9},{"t":16.3,"s":"SP CEB HTR","v":-7.1},{"t":17.31,"s":"SP CEB HTR","v":-12},{"t":17.98,"s":"SP CEB HTR","v":-7},{"t":18.93,"s":"SP CEB HTR","v":-12},{"t":19.68,"s":"SP CEB HTR","v":-7},{"t":20.56,"s":"SP CEB HTR","v":-12},{"t":21.4,"s":"SP CEB HTR","v":-7},{"t":22.24,"s":"SP CEB HTR","v":-12.2},{"t":22.95,"s":"SP CEB HTR","v":-7.1},{"t":23.87,"s":"SP CEB HTR","v":-12.2},{"t":24.5,"s":"SP CEB HTR","v":-7.1},{"t":25.49,"s":"SP CEB HTR","v":-12.2},{"t":26.15,"s":"SP CEB HTR","v":-7.1},{"t":27.12,"s":"SP CEB HTR","v":-12.2},{"t":27.75,"s":"SP CEB HTR","v":-7.1},{"t":28.74,"s":"SP CEB HTR","v":-12.2},{"t":29.37,"s":"SP CEB HTR","v":-7.1},{"t":30.37,"s":"SP CEB HTR","v":-12.2},{"t":31.03,"s":"SP CEB HTR","v":-7.1},{"t":31.56,"s":"SP CEB HTR","v":-8.4},

      {"t":3.93,"s":"FG CEB HTR","v":-22.5},{"t":4.2,"s":"FG CEB HTR","v":-23.6},{"t":4.45,"s":"FG CEB HTR","v":-25.8},{"t":4.65,"s":"FG CEB HTR","v":-28.5},{"t":4.75,"s":"FG CEB HTR","v":-23.8},{"t":4.85,"s":"FG CEB HTR","v":-24.4},{"t":5.05,"s":"FG CEB HTR","v":-23.2},{"t":5.45,"s":"FG CEB HTR","v":-22.4},{"t":5.85,"s":"FG CEB HTR","v":-23.5},{"t":6.1,"s":"FG CEB HTR","v":-25.8},{"t":6.3,"s":"FG CEB HTR","v":-28.5},{"t":6.4,"s":"FG CEB HTR","v":-23.8},{"t":6.5,"s":"FG CEB HTR","v":-24.4},{"t":6.7,"s":"FG CEB HTR","v":-23.2},{"t":7.1,"s":"FG CEB HTR","v":-22.4},{"t":7.47,"s":"FG CEB HTR","v":-23.5},{"t":7.72,"s":"FG CEB HTR","v":-25.8},{"t":7.95,"s":"FG CEB HTR","v":-28.5},{"t":8.05,"s":"FG CEB HTR","v":-23.8},{"t":8.15,"s":"FG CEB HTR","v":-24.4},{"t":8.35,"s":"FG CEB HTR","v":-23.2},{"t":8.7,"s":"FG CEB HTR","v":-22.4},{"t":9.06,"s":"FG CEB HTR","v":-24.1},{"t":11.91,"s":"FG CEB HTR","v":-24.1},{"t":11.93,"s":"FG CEB HTR","v":-24.7},{"t":14.85,"s":"FG CEB HTR","v":-24.7},{"t":15.2,"s":"FG CEB HTR","v":-21.8},{"t":15.5,"s":"FG CEB HTR","v":-23},{"t":15.9,"s":"FG CEB HTR","v":-25.2},{"t":16.13,"s":"FG CEB HTR","v":-28.5},{"t":16.23,"s":"FG CEB HTR","v":-24.2},{"t":16.33,"s":"FG CEB HTR","v":-24.7},{"t":16.53,"s":"FG CEB HTR","v":-23.2},
      {"t":16.94,"s":"FG CEB HTR","v":-22},{"t":17.24,"s":"FG CEB HTR","v":-23},{"t":17.54,"s":"FG CEB HTR","v":-25.2},{"t":17.74,"s":"FG CEB HTR","v":-28.5},{"t":17.84,"s":"FG CEB HTR","v":-24.2},{"t":17.94,"s":"FG CEB HTR","v":-24.7},{"t":18.14,"s":"FG CEB HTR","v":-23.2},
      {"t":18.56,"s":"FG CEB HTR","v":-22},{"t":18.86,"s":"FG CEB HTR","v":-23},{"t":19.16,"s":"FG CEB HTR","v":-25.2},{"t":19.36,"s":"FG CEB HTR","v":-28.5},{"t":19.46,"s":"FG CEB HTR","v":-24.2},{"t":19.56,"s":"FG CEB HTR","v":-24.7},{"t":19.76,"s":"FG CEB HTR","v":-23.2},
      {"t":20.19,"s":"FG CEB HTR","v":-22},{"t":20.49,"s":"FG CEB HTR","v":-23},{"t":20.79,"s":"FG CEB HTR","v":-25.2},{"t":20.99,"s":"FG CEB HTR","v":-28.5},{"t":21.09,"s":"FG CEB HTR","v":-24.2},{"t":21.19,"s":"FG CEB HTR","v":-24.7},{"t":21.39,"s":"FG CEB HTR","v":-23.2},
      {"t":21.81,"s":"FG CEB HTR","v":-22},{"t":22.11,"s":"FG CEB HTR","v":-23},{"t":22.41,"s":"FG CEB HTR","v":-25.2},{"t":22.61,"s":"FG CEB HTR","v":-28.5},{"t":22.71,"s":"FG CEB HTR","v":-24.2},{"t":22.81,"s":"FG CEB HTR","v":-24.7},{"t":23.01,"s":"FG CEB HTR","v":-23.2},
      {"t":23.44,"s":"FG CEB HTR","v":-22},{"t":23.74,"s":"FG CEB HTR","v":-23},{"t":24.02,"s":"FG CEB HTR","v":-25.2},{"t":24.22,"s":"FG CEB HTR","v":-28.5},{"t":24.32,"s":"FG CEB HTR","v":-24.2},{"t":24.42,"s":"FG CEB HTR","v":-24.7},{"t":24.62,"s":"FG CEB HTR","v":-23.2},
      {"t":25.07,"s":"FG CEB HTR","v":-22},{"t":25.37,"s":"FG CEB HTR","v":-23},{"t":25.65,"s":"FG CEB HTR","v":-25.2},{"t":25.85,"s":"FG CEB HTR","v":-28.5},{"t":25.95,"s":"FG CEB HTR","v":-24.2},{"t":26.05,"s":"FG CEB HTR","v":-24.7},{"t":26.25,"s":"FG CEB HTR","v":-23.2},
      {"t":26.69,"s":"FG CEB HTR","v":-22},{"t":26.99,"s":"FG CEB HTR","v":-23},{"t":27.27,"s":"FG CEB HTR","v":-25.2},{"t":27.47,"s":"FG CEB HTR","v":-28.5},{"t":27.57,"s":"FG CEB HTR","v":-24.2},{"t":27.67,"s":"FG CEB HTR","v":-24.7},{"t":27.87,"s":"FG CEB HTR","v":-23.2},
      {"t":28.32,"s":"FG CEB HTR","v":-22},{"t":28.62,"s":"FG CEB HTR","v":-23},{"t":28.9,"s":"FG CEB HTR","v":-25.2},{"t":29.1,"s":"FG CEB HTR","v":-28.5},{"t":29.2,"s":"FG CEB HTR","v":-24.2},{"t":29.3,"s":"FG CEB HTR","v":-24.7},{"t":29.5,"s":"FG CEB HTR","v":-23.2},
      {"t":29.94,"s":"FG CEB HTR","v":-22},{"t":30.24,"s":"FG CEB HTR","v":-23},{"t":30.52,"s":"FG CEB HTR","v":-25.2},{"t":30.72,"s":"FG CEB HTR","v":-28.5},{"t":30.82,"s":"FG CEB HTR","v":-24.2},{"t":30.92,"s":"FG CEB HTR","v":-24.7},{"t":31.12,"s":"FG CEB HTR","v":-23.2},{"t":31.56,"s":"FG CEB HTR","v":-22}
    ]
  },
  "vconcat": [
    {
      "width": 680, "height": 250,
      "data": {"name": "p1"},
      "layer": [
        {
          "mark": {"type": "line", "interpolate": "monotone", "strokeWidth": 1},
          "encoding": {
            "x": {"field": "t", "type": "quantitative",
              "scale": {"domain": [3.93, 31.56], "nice": false, "zero": false},
              "axis": {"orient": "bottom", "title": null, "values": [4,5,6,7,8,9,10,11,12,13,14,15,16,17,18,19,20,21,22,23,24,25,26,27,28,29,30,31],
                "labelExpr": "datum.value % 4 == 0 ? ((datum.value % 24 < 10 ? '0' : '') + (datum.value % 24) + ':00') : ''",
                "tickSize": {"condition": {"test": "datum.value % 4 == 0", "value": -14}, "value": -7}, "labelPadding": 23}},
            "y": {"field": "v", "type": "quantitative",
              "scale": {"domain": [-60, 40], "nice": false, "zero": false},
              "axis": {"orient": "left", "title": "[deg.C]", "titlePadding": 9, "values": [-60,-55,-50,-45,-40,-35,-30,-25,-20,-15,-10,-5,0,5,10,15,20,25,30,35,40],
                "labelExpr": "datum.value % 20 == 0 ? datum.label : ''",
                "labelOffset": {"condition": [{"test": "datum.value == 40", "value": 4}, {"test": "datum.value == -60", "value": -3}], "value": 0},
                "tickSize": {"condition": {"test": "datum.value % 20 == 0", "value": -14}, "value": -7}, "labelPadding": 19}},
            "color": {"field": "s", "type": "nominal",
              "scale": {"domain": ["FG CCD","SP CCD","CT CCD","FG CAM","SP CAM","CT CAM"], "range": ["#ffff00","#ff0000","#00ff00","#0000ff","#ff8000","#ff00ff"]},
              "legend": {}}
          }
        },
        {
          "transform": [{"filter": "datum.s == 'CT CCD'"}],
          "mark": {"type": "line", "strokeOpacity": 0},
          "encoding": {
            "x": {"field": "t", "type": "quantitative",
              "scale": {"domain": [3.93, 31.56], "nice": false, "zero": false},
              "axis": {"orient": "top", "title": null, "labels": false, "values": [4,5,6,7,8,9,10,11,12,13,14,15,16,17,18,19,20,21,22,23,24,25,26,27,28,29,30,31],
                "tickSize": {"condition": {"test": "datum.value % 4 == 0", "value": -14}, "value": -7}}},
            "y": {"field": "v", "type": "quantitative",
              "scale": {"domain": [-60, 40], "nice": false, "zero": false},
              "axis": {"orient": "right", "title": null, "labels": false, "values": [-60,-55,-50,-45,-40,-35,-30,-25,-20,-15,-10,-5,0,5,10,15,20,25,30,35,40],
                "tickSize": {"condition": {"test": "datum.value % 20 == 0", "value": -14}, "value": -7}}}
          }
        }
      ],
      "resolve": {"axis": {"x": "independent", "y": "independent"}}
    },
    {
      "width": 680, "height": 250,
      "data": {"name": "p2"},
      "layer": [
        {
          "mark": {"type": "line", "interpolate": "step-after", "strokeWidth": 1},
          "encoding": {
            "x": {"field": "t", "type": "quantitative",
              "scale": {"domain": [3.93, 31.56], "nice": false, "zero": false},
              "axis": {"orient": "bottom", "title": null, "values": [4,5,6,7,8,9,10,11,12,13,14,15,16,17,18,19,20,21,22,23,24,25,26,27,28,29,30,31],
                "labelExpr": "datum.value % 4 == 0 ? ((datum.value % 24 < 10 ? '0' : '') + (datum.value % 24) + ':00') : ''",
                "tickSize": {"condition": {"test": "datum.value % 4 == 0", "value": -14}, "value": -7}, "labelPadding": 23}},
            "y": {"field": "v", "type": "quantitative",
              "scale": {"domain": [10, 40], "nice": false, "zero": false},
              "axis": {"orient": "left", "title": "[deg.C]", "titlePadding": 9, "values": [10,11,12,13,14,15,16,17,18,19,20,21,22,23,24,25,26,27,28,29,30,31,32,33,34,35,36,37,38,39,40],
                "labelExpr": "datum.value % 5 == 0 ? datum.label : ''",
                "labelOffset": {"condition": [{"test": "datum.value == 40", "value": 4}, {"test": "datum.value == 10", "value": -2}], "value": 0},
                "tickSize": {"condition": {"test": "datum.value % 5 == 0", "value": -14}, "value": -7}, "labelPadding": 19}},
            "color": {"field": "s", "type": "nominal",
              "scale": {"domain": ["STC 1","STC 2","PMU","FPP-E","FPP-PWR"], "range": ["#ffff00","#ff0000","#00ff00","#0000ff","#ff8000"]},
              "legend": {}}
          }
        },
        {
          "transform": [{"filter": "datum.s == 'STC 1'"}],
          "mark": {"type": "line", "strokeOpacity": 0},
          "encoding": {
            "x": {"field": "t", "type": "quantitative",
              "scale": {"domain": [3.93, 31.56], "nice": false, "zero": false},
              "axis": {"orient": "top", "title": null, "labels": false, "values": [4,5,6,7,8,9,10,11,12,13,14,15,16,17,18,19,20,21,22,23,24,25,26,27,28,29,30,31],
                "tickSize": {"condition": {"test": "datum.value % 4 == 0", "value": -14}, "value": -7}}},
            "y": {"field": "v", "type": "quantitative",
              "scale": {"domain": [10, 40], "nice": false, "zero": false},
              "axis": {"orient": "right", "title": null, "labels": false, "values": [10,11,12,13,14,15,16,17,18,19,20,21,22,23,24,25,26,27,28,29,30,31,32,33,34,35,36,37,38,39,40],
                "tickSize": {"condition": {"test": "datum.value % 5 == 0", "value": -14}, "value": -7}}}
          }
        }
      ],
      "resolve": {"axis": {"x": "independent", "y": "independent"}}
    },
    {
      "width": 680, "height": 250,
      "data": {"name": "p3"},
      "layer": [
        {
          "transform": [{"filter": {"field": "s", "oneOf": ["FG CEB HTR","SP CEB HTR","CT CEB HTR"]}}],
          "mark": {"type": "line", "interpolate": "monotone", "strokeWidth": 1},
          "encoding": {
            "x": {"field": "t", "type": "quantitative",
              "scale": {"domain": [3.93, 31.56], "nice": false, "zero": false},
              "axis": {"orient": "bottom", "title": "Start Time (08-Nov-25 03:54:00)", "titleFontSize": 14, "titlePadding": -8, "values": [4,5,6,7,8,9,10,11,12,13,14,15,16,17,18,19,20,21,22,23,24,25,26,27,28,29,30,31],
                "labelExpr": "datum.value % 4 == 0 ? ((datum.value % 24 < 10 ? '0' : '') + (datum.value % 24) + ':00') : ''",
                "tickSize": {"condition": {"test": "datum.value % 4 == 0", "value": -14}, "value": -7}, "labelPadding": 23}},
            "y": {"field": "v", "type": "quantitative",
              "scale": {"domain": [-40, 40], "nice": false, "zero": false},
              "axis": {"orient": "left", "title": "[deg.C]", "titlePadding": 9, "values": [-40,-35,-30,-25,-20,-15,-10,-5,0,5,10,15,20,25,30,35,40],
                "labelExpr": "datum.value % 20 == 0 ? datum.label : ''",
                "labelOffset": {"condition": [{"test": "datum.value == 40", "value": 4}, {"test": "datum.value == -40", "value": -4}], "value": 0},
                "tickSize": {"condition": {"test": "datum.value % 20 == 0", "value": -14}, "value": -7}, "labelPadding": 19}},
            "color": {"field": "s", "type": "nominal",
              "scale": {"domain": ["FPP 1 HTR","FPP 2 HTR","FG CEB HTR","SP CEB HTR","CT CEB HTR"], "range": ["#ffff00","#ff0000","#00ff00","#0000ff","#ff8000"]},
              "legend": {}}
          }
        },
        {
          "transform": [{"filter": {"field": "s", "oneOf": ["FPP 1 HTR","FPP 2 HTR"]}}],
          "mark": {"type": "line", "interpolate": "step-after", "strokeWidth": 1},
          "encoding": {
            "x": {"field": "t", "type": "quantitative",
              "scale": {"domain": [3.93, 31.56], "nice": false, "zero": false},
              "axis": {"orient": "top", "title": null, "labels": false, "values": [4,5,6,7,8,9,10,11,12,13,14,15,16,17,18,19,20,21,22,23,24,25,26,27,28,29,30,31],
                "tickSize": {"condition": {"test": "datum.value % 4 == 0", "value": -14}, "value": -7}}},
            "y": {"field": "v", "type": "quantitative",
              "scale": {"domain": [-40, 40], "nice": false, "zero": false},
              "axis": {"orient": "right", "title": null, "labels": false, "values": [-40,-35,-30,-25,-20,-15,-10,-5,0,5,10,15,20,25,30,35,40],
                "tickSize": {"condition": {"test": "datum.value % 20 == 0", "value": -14}, "value": -7}}},
            "color": {"field": "s", "type": "nominal",
              "scale": {"domain": ["FPP 1 HTR","FPP 2 HTR","FG CEB HTR","SP CEB HTR","CT CEB HTR"], "range": ["#ffff00","#ff0000","#00ff00","#0000ff","#ff8000"]},
              "legend": {}}
          }
        }
      ],
      "resolve": {"axis": {"x": "independent", "y": "independent"}}
    }
  ],
  "resolve": {"scale": {"color": "independent"}, "legend": {"color": "independent"}}
}
